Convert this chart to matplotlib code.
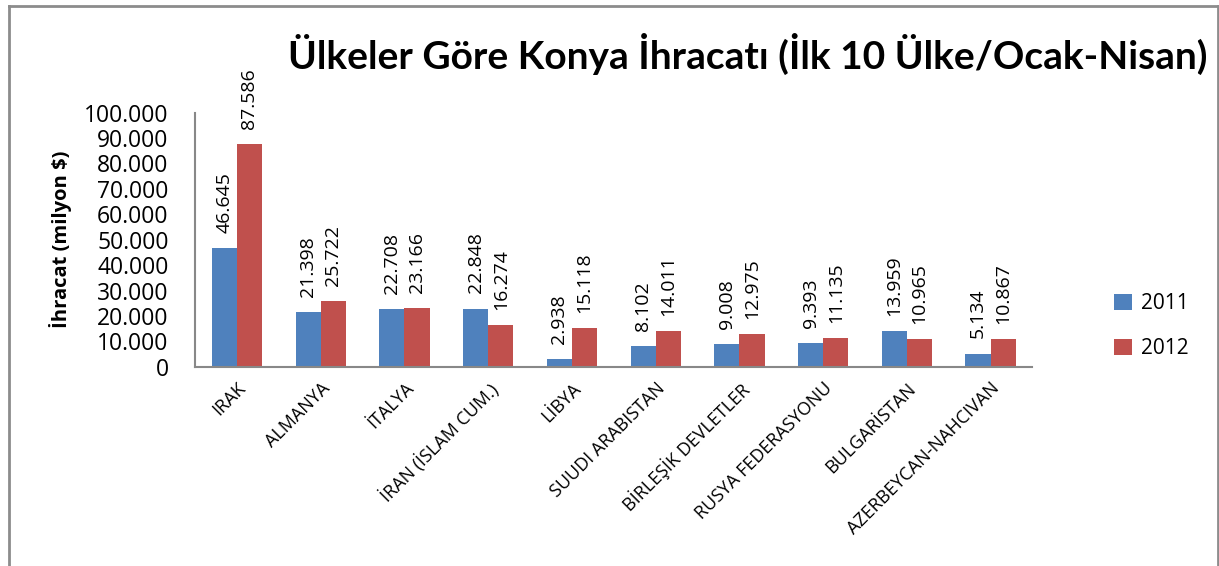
import numpy as np
import matplotlib.pyplot as plt
from matplotlib.lines import Line2D

plt.rcParams['font.family'] = ['Open Sans', 'DejaVu Sans']

# veriler
ulkeler = ['IRAK', 'ALMANYA', 'İTALYA', 'İRAN (İSLAM CUM.)', 'LİBYA',
           'SUUDI ARABISTAN', 'BİRLEŞİK DEVLETLER', 'RUSYA FEDERASYONU',
           'BULGARİSTAN', 'AZERBEYCAN-NAHCIVAN']
y2011 = [46645, 21398, 22708, 22848, 2938, 8102, 9008, 9393, 13959, 5134]
y2012 = [87586, 25722, 23166, 16274, 15118, 14011, 12975, 11135, 10965, 10867]
yticks = [0, 10000, 20000, 30000, 40000, 50000, 60000, 70000, 80000, 90000, 100000]

mavi = '#4F81BD'
kirmizi = '#C0504D'


def nokta(v):
    return '{:,}'.format(int(v)).replace(',', '.')


fig = plt.figure(figsize=(12.19, 5.66), dpi=100)
ax = fig.add_axes([0.160, 0.352, 0.687, 0.449])

x = np.arange(len(ulkeler))
w = 0.3
b1 = ax.bar(x - w/2, y2011, w, color=mavi, label='2011')
b2 = ax.bar(x + w/2, y2012, w, color=kirmizi, label='2012')

for bars, vals in [(b1, y2011), (b2, y2012)]:
    for r, v in zip(bars, vals):
        ax.annotate(nokta(v), (r.get_x() + r.get_width()/2, v),
                    xytext=(0, 11), textcoords='offset points',
                    rotation=90, ha='center', va='bottom', fontsize=14)

ax.set_xlim(-0.5, len(ulkeler) - 0.5)
ax.set_ylim(0, 100000)
ax.set_yticks(yticks)
ax.set_yticklabels([nokta(t) for t in yticks], fontsize=16.5)
ax.set_xticks(x)
ax.set_xticklabels(ulkeler, rotation=45, ha='right', rotation_mode='anchor', fontsize=13)
ax.tick_params(axis='y', length=0, pad=19)
ax.tick_params(axis='x', length=0, pad=9)

for s in ['top', 'right']:
    ax.spines[s].set_visible(False)
for s in ['left', 'bottom']:
    ax.spines[s].set_color('#888888')
    ax.spines[s].set_linewidth(1.5)

ax.set_ylabel('İhracat (milyon $)', fontsize=14.5, fontweight='bold', labelpad=9)

fig.text(0.236, 0.905, 'Ülkeler Göre Konya İhracatı (İlk 10 Ülke/Ocak-Nisan)',
         fontsize=28, fontweight='bold', family=['Lato', 'DejaVu Sans'],
         ha='left', va='center')

ax.legend(loc='center left', bbox_to_anchor=(1.075, 0.16), frameon=False,
          fontsize=15, handlelength=0.85, handleheight=0.85, labelspacing=1.15,
          handletextpad=0.45)

# cadre
gris = '#8c8c8c'
fig.add_artist(Line2D([8.5/1219, 8.5/1219], [0, 1 - 6/566], color=gris, lw=2, transform=fig.transFigure))
fig.add_artist(Line2D([8.5/1219, 1218/1219], [1 - 6/566, 1 - 6/566], color=gris, lw=2, transform=fig.transFigure))
fig.add_artist(Line2D([1218/1219, 1218/1219], [0, 1 - 6/566], color=gris, lw=2, transform=fig.transFigure))

fig.savefig('out.png', dpi=100)
